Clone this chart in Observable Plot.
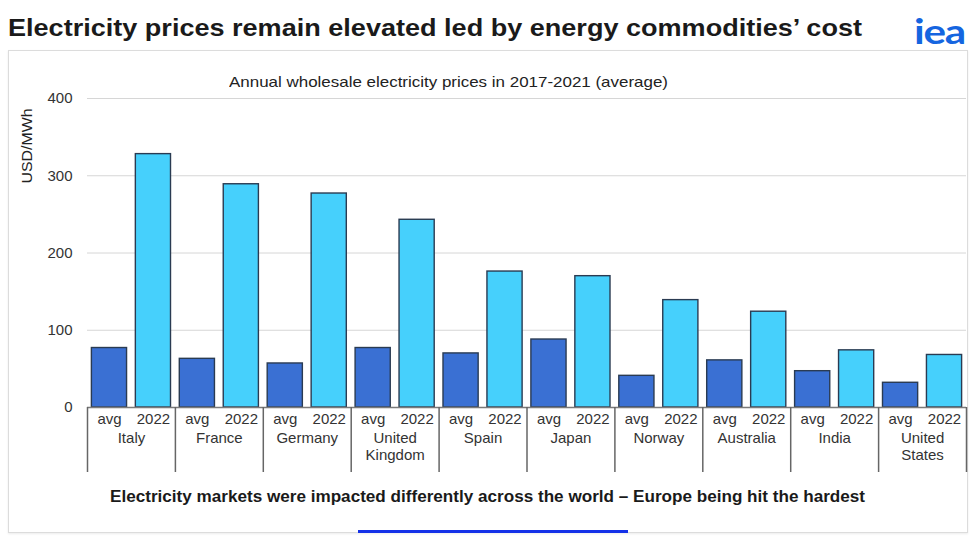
<!DOCTYPE html>
<html>
<head>
<meta charset="utf-8">
<script src="https://cdn.jsdelivr.net/npm/d3@7"></script>
<script src="https://cdn.jsdelivr.net/npm/@observablehq/plot@0.6"></script>
<style>
  html, body { margin: 0; padding: 0; background: #fff; }
  body { width: 978px; height: 544px; position: relative; overflow: hidden; font-family: "Liberation Sans", Arial, sans-serif; }
  .abs { position: absolute; white-space: nowrap; }
  #title { left: 8px; top: 14px; font-size: 24px; font-weight: bold; color: #1a1a1a; transform-origin: 0 0; }
  #logo { left: 914px; top: 9px; font-family: Lato, "Liberation Sans", sans-serif; font-size: 35px; font-weight: 700; color: #1565e0; letter-spacing: -1px; transform-origin: 0 0; }
  #panel { left: 8px; top: 50px; width: 958px; height: 481px; border: 1px solid #dcdcdc; box-shadow: 0 1px 2px rgba(0,0,0,0.08); }
  #subtitle { left: 229px; top: 73px; font-size: 15px; color: #222; transform-origin: 0 0; }
  #ylabel { left: 27px; top: 146px; font-size: 14px; color: #222; }
  #caption { left: 110px; top: 488px; font-size: 16px; font-weight: bold; color: #1a1a1a; transform-origin: 0 0; }
  #underline { left: 358px; top: 530px; width: 270px; height: 3px; background: #1431e8; }
  #chart { left: 0px; top: 60px; }
</style>
</head>
<body>
<div id="panel" class="abs"></div>
<div id="title" class="abs">Electricity prices remain elevated led by energy commodities’ cost</div>
<div id="logo" class="abs">iea</div>
<div id="subtitle" class="abs">Annual wholesale electricity prices in 2017-2021 (average)</div>
<div id="ylabel" class="abs">USD/MWh</div>
<div id="chart" class="abs"></div>
<div id="caption" class="abs">Electricity markets were impacted differently across the world – Europe being hit the hardest</div>
<div id="underline" class="abs"></div>
<script>
// ---- data ----
const countries = ["Italy", "France", "Germany", "United Kingdom", "Spain", "Japan", "Norway", "Australia", "India", "United States"];
const countryLabels = ["Italy", "France", "Germany", "United\nKingdom", "Spain", "Japan", "Norway", "Australia", "India", "United\nStates"];
const seriesNames = ["avg", "2022"];
const avgValues = [77, 63, 57, 77, 70, 88, 41, 61, 47, 32];
const values2022 = [328, 289, 277, 243, 176, 170, 139, 124, 74, 68];
const yTicks = [0, 100, 200, 300, 400];
const seriesColors = ["#3a70d3", "#46d0fc"];

// ---- table built from the arrays ----
const key = (c, s) => c + "|" + s;
const rows = [];
countries.forEach((c, i) => {
  rows.push({country: c, series: "avg", key: key(c, "avg"), value: avgValues[i]});
  rows.push({country: c, series: "2022", key: key(c, "2022"), value: values2022[i]});
});
const xDomain = rows.map(d => d.key);

const width = 978, height = 417;
const marginLeft = 87, marginRight = 12, marginTop = 38, marginBottom = 70;
// band step: paddingInner 0.2, paddingOuter 0.1 => n - 0.2 + 0.2 = n steps
const step = (width - marginLeft - marginRight) / xDomain.length;
const labelFont = "Liberation Sans, Arial, sans-serif";

const chart = Plot.plot({
  width, height, marginLeft, marginRight, marginTop, marginBottom,
  style: {fontFamily: labelFont, fontSize: "15px", color: "#333", background: "transparent"},
  x: {domain: xDomain, paddingInner: 0.2, paddingOuter: 0.1, round: false, axis: null},
  y: {domain: [0, 400], ticks: yTicks, axis: null},
  color: {domain: seriesNames, range: seriesColors},
  marks: [
    Plot.gridY(yTicks.filter(t => t > 0), {stroke: "#d6d6d6", strokeOpacity: 1, strokeWidth: 1}),
    Plot.axisY({ticks: yTicks, tickSize: 0, tickPadding: 15, fontSize: 15, label: null, tickFormat: d => String(d)}),
    Plot.barY(rows, {x: "key", y: "value", fill: "series", stroke: "#2a3b52", strokeWidth: 1.4}),
    Plot.ruleY([0], {stroke: "#7a7a7a", strokeWidth: 1.3}),
    Plot.axisX({tickSize: 0, tickPadding: 6, fontSize: 15, label: null, tickFormat: d => d.split("|")[1]}),
    Plot.text(countries, {x: c => key(c, "2022"), y: () => 0, text: (c, i) => countryLabels[i], dx: -step / 2, dy: 23, lineAnchor: "top", lineHeight: 1.15, fontSize: 15, fill: "#333"}),
    Plot.ruleX(countries, {x: c => key(c, "avg"), y1: 0, y2: 0, insetBottom: -65, dx: -step / 2, stroke: "#666", strokeWidth: 1.5}),
    Plot.ruleX(countries.slice(-1), {x: c => key(c, "2022"), y1: 0, y2: 0, insetBottom: -65, dx: step / 2, stroke: "#666", strokeWidth: 1.5})
  ]
});
document.getElementById("chart").appendChild(chart);

// horizontally stretch the slide texts to the widths they have in the reference
function fitWidth(id, target) {
  const el = document.getElementById(id);
  const w = el.getBoundingClientRect().width;
  el.style.transform = `scaleX(${target / w})`;
}
fitWidth("title", 854);
fitWidth("subtitle", 439);
fitWidth("caption", 755);
fitWidth("logo", 51);
const yl = document.getElementById("ylabel");
const ylw = yl.getBoundingClientRect().width, ylh = yl.getBoundingClientRect().height;
yl.style.left = (27 - ylw / 2) + "px";
yl.style.top = (146 - ylh / 2) + "px";
yl.style.transform = `rotate(-90deg) scaleX(${75 / ylw})`;
</script>
</body>
</html>
